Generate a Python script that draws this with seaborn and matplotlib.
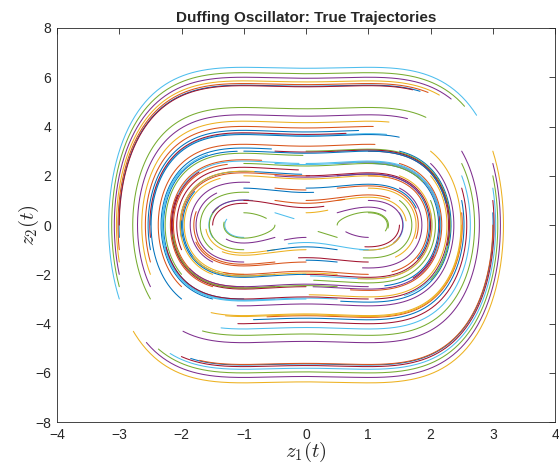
import matplotlib
matplotlib.use("Agg")
import matplotlib.pyplot as plt
import numpy as np
import pandas as pd
import seaborn as sns

nan = np.nan

# start point of every arc
start_z1 = [
    -3.0, -3.0, -3.0, -3.0, -3.0, -3.0, -3.0,
    3.0, 3.0, 3.0, 3.0, 3.0, 3.0, 3.0,
    -2.5, -2.5, -2.5, -2.5, -2.5, -2.5, -2.5,
    2.5, 2.5, 2.5, 2.5, 2.5, 2.5, 2.5,
    -2.0, -2.0, 2.0, 2.0,
    -2.0, -2.0, -2.0, -2.0, -2.0,
    2.0, 2.0, 2.0, 2.0, 2.0,
    -1.5, -1.5, -1.5, -1.5, -1.5, -1.5, -1.5,
    1.5, 1.5, 1.5, 1.5, 1.5, 1.5, 1.5,
    -1.0, -1.0, -1.0, -1.0, -1.0, -1.0,
    1.0, 1.0, 1.0, 1.0, 1.0, 1.0,
    -0.5, -0.5, -0.5, -0.5, -0.5, -0.5, -0.5,
    0.5, 0.5, 0.5, 0.5, 0.5, 0.5, 0.5,
    0.0, 0.0, 0.0, 0.0, 0.0, 0.0,
    0.0, 0.0, 0.0, 0.0, 0.0, 0.0,
    -1.5, -1.0, -0.5, -1.0, -1.0, -0.5, -1.0, -0.5, -1.0, -0.5, -0.5, -1.0, -0.5,
    1.5, 1.0, 0.5, 1.0, 1.0, 0.5, 1.0, 0.5, 1.0, 0.5, 0.5, 1.0, 0.5,
]
start_z2 = [
    -0.5, -1.0, -1.5, -2.0, -2.5, -3.0, 0.0,
    0.5, 0.0, 3.0, 2.5, 2.0, 1.5, 1.0,
    -1.0, -1.5, -2.0, -2.5, -3.0, 0.0, -0.5,
    1.0, 0.5, 0.0, 3.0, 2.5, 2.0, 1.5,
    -3.0, -2.5, 3.0, 2.5,
    -2.0, -1.5, -1.0, -0.5, 0.0,
    2.0, 1.5, 1.0, 0.5, 0.0,
    -3.0, -2.5, -2.0, -1.5, -1.0, -0.5, 0.0,
    3.0, 2.5, 2.0, 1.5, 1.0, 0.5, 0.0,
    -3.0, -2.5, -2.0, -1.5, -1.0, -0.5,
    3.0, 2.5, 2.0, 1.5, 1.0, 0.5,
    -3.0, -2.5, -2.0, -1.5, -1.0, -0.5, 0.0,
    3.0, 2.5, 2.0, 1.5, 1.0, 0.5, 0.0,
    -3.0, -2.5, -2.0, -1.5, -1.0, -0.5,
    3.0, 2.5, 2.0, 1.5, 1.0, 0.5,
    0.5, 0.5, 0.5, 1.0, 1.5, 1.5, 2.0, 2.0, 2.5, 2.5, 3.0, 3.0, 1.0,
    -0.5, -0.5, -0.5, -1.0, -1.5, -1.5, -2.0, -2.0, -2.5, -2.5, -3.0, -3.0, -1.0,
]
# end point of the arcs whose end could be read (nan: arc drawn for t_span)
end_z1 = [
    1.83, 1.98, 2.17, 2.36, 2.55, 2.76, 1.70,
    -1.83, -1.70, -2.78, -2.56, -2.36, -2.17, -1.99,
    0.84, 1.08, 1.35, 1.64, 1.96, nan, 0.63,
    -0.85, -0.63, nan, -1.98, -1.65, -1.35, -1.09,
    1.51, 1.11, -1.51, -1.11,
    nan, nan, nan, nan, nan,
    nan, nan, nan, nan, nan,
    nan, nan, nan, nan, nan, nan, -0.95,
    nan, nan, nan, nan, nan, nan, 0.95,
    nan, nan, nan, nan, nan, nan,
    nan, nan, nan, nan, nan, nan,
    nan, nan, nan, nan, nan, nan, -1.30,
    nan, nan, nan, nan, nan, nan, 1.30,
    nan, nan, nan, nan, nan, -0.34,
    nan, nan, nan, nan, nan, 0.34,
    -0.93, -0.63, -0.18, 0.22, 0.12, 0.00, nan, nan, nan, nan, nan, nan, nan,
    0.93, 0.63, 0.18, -0.22, -0.12, 0.00, nan, nan, nan, nan, nan, nan, nan,
]
end_z2 = [
    5.44, 5.40, 5.30, 5.12, 4.83, 4.43, 5.47,
    -5.40, -5.45, -4.34, -4.74, -5.05, -5.20, -5.32,
    3.86, 4.06, 4.22, 4.35, 4.39, nan, 3.78,
    -3.79, -3.66, nan, -4.30, -4.27, -4.14, -3.98,
    3.61, 3.33, -3.53, -3.33,
    nan, nan, nan, nan, nan,
    nan, nan, nan, nan, nan,
    nan, nan, nan, nan, nan, nan, 0.85,
    nan, nan, nan, nan, nan, nan, -0.85,
    nan, nan, nan, nan, nan, nan,
    nan, nan, nan, nan, nan, nan,
    nan, nan, nan, nan, nan, nan, 0.12,
    nan, nan, nan, nan, nan, nan, -0.12,
    nan, nan, nan, nan, nan, -0.62,
    nan, nan, nan, nan, nan, 0.62,
    0.95, 0.28, 0.28, 0.95, 1.35, 1.45, nan, nan, nan, nan, nan, nan, nan,
    -0.95, -0.28, -0.28, -0.95, -1.35, -1.45, nan, nan, nan, nan, nan, nan, nan,
]
t_span = 1.2

matlab_colors = ["#0072BD", "#D95319", "#EDB120", "#7E2F8E", "#77AC30", "#4DBEEE", "#A2142F"]


def duffing(z1, z2):
    return z2, z1 - z1 ** 3


def rk4_paths(z1, z2, t_end, dt=0.004):
    n = int(round(t_end / dt))
    xs, ys = [z1.copy()], [z2.copy()]
    for _ in range(n):
        k1 = duffing(z1, z2)
        k2 = duffing(z1 + dt / 2 * k1[0], z2 + dt / 2 * k1[1])
        k3 = duffing(z1 + dt / 2 * k2[0], z2 + dt / 2 * k2[1])
        k4 = duffing(z1 + dt * k3[0], z2 + dt * k3[1])
        z1 = z1 + dt / 6 * (k1[0] + 2 * k2[0] + 2 * k3[0] + k4[0])
        z2 = z2 + dt / 6 * (k1[1] + 2 * k2[1] + 2 * k3[1] + k4[1])
        xs.append(z1.copy())
        ys.append(z2.copy())
    return np.array(xs), np.array(ys), dt


x0 = np.array(start_z1)
y0 = np.array(start_z2)
xe = np.array(end_z1)
ye = np.array(end_z2)
X, Y, dt = rk4_paths(x0, y0, 8.0)


def cut_index(i):
    # stop the arc where it passes closest to its read end point
    if np.isnan(xe[i]):
        return int(round(t_span / dt))
    d = np.hypot(X[:, i] - xe[i], Y[:, i] - ye[i])
    close = np.where(d < 0.3)[0]
    close = close[close > 5]
    if len(close) == 0:
        return int(np.argmin(d))
    j = close[0]
    k = j
    while k + 1 < len(d) and d[k + 1] < 0.3:
        k += 1
    return j + int(np.argmin(d[j:k + 1]))


frames = []
for i in range(len(x0)):
    n = cut_index(i) + 1
    frames.append(pd.DataFrame({"z1": X[:n, i], "z2": Y[:n, i], "traj": i}))
df = pd.concat(frames, ignore_index=True)
palette = [matlab_colors[i % 7] for i in range(len(x0))]

sns.set_style("white")
plt.rcParams["font.family"] = ["Liberation Sans", "DejaVu Sans"]
plt.rcParams["mathtext.fontset"] = "cm"

fig = plt.figure(figsize=(5.59, 4.66), dpi=100)
ax = fig.add_axes([0.102, 0.094, 0.891, 0.846])
sns.lineplot(data=df, x="z1", y="z2", hue="traj", units="traj", palette=palette,
             sort=False, estimator=None, legend=False, linewidth=0.75, ax=ax)

ax.set_xlim(-4, 4)
ax.set_ylim(-8, 8)
ax.set_xticks(np.arange(-4, 5, 1))
ax.set_yticks(np.arange(-8, 9, 2))
ax.tick_params(direction="in", length=4, width=0.6, labelsize=10, top=True, right=True,
               colors="#262626", pad=4)
for s in ax.spines.values():
    s.set_linewidth(0.6)
    s.set_color("#262626")
ax.set_title("Duffing Oscillator: True Trajectories", fontsize=11, fontweight="bold", pad=4)
ax.set_xlabel("$z_1(t)$", fontsize=15, labelpad=-1)
ax.set_ylabel("$z_2(t)$", fontsize=15, labelpad=-4)

fig.savefig("out.png", dpi=100)
